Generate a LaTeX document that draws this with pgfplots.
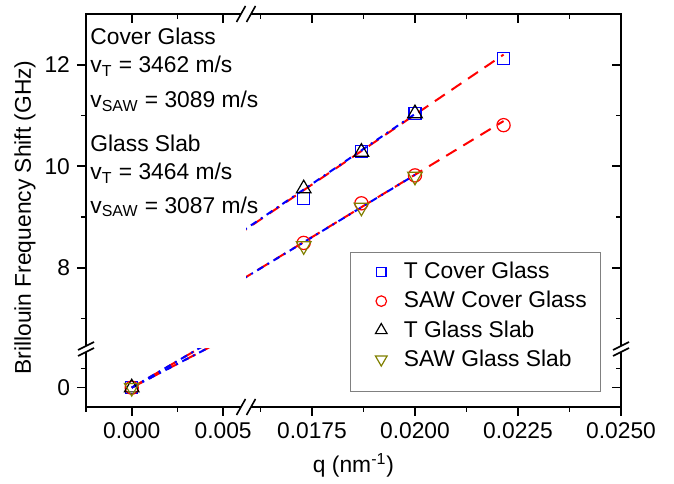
\documentclass[border=0pt]{standalone}
\usepackage{fontspec}
\setmainfont{Liberation Sans}
\usepackage{pgfplots}
\pgfplotsset{compat=1.18}
\usetikzlibrary{calc}

\definecolor{olv}{RGB}{128,128,0}

\pgfplotsset{
  part/.style={
    scale only axis,
    axis line style={draw=none},
    clip mode=individual,
    scaled ticks=false,
    major tick length=4.5pt,
    minor tick length=2.5pt,
    every tick/.append style={black, line width=0.8pt},
    tick label style={font=\fontsize{11.4}{13.5}\selectfont},
  },
  fitcov/.style={red, line width=1pt, dash pattern=on 6pt off 4pt, forget plot},
  fitslab/.style={blue, line width=1pt, dash pattern=on 3.5pt off 2.5pt on 1pt off 2.5pt, forget plot},
  mk/.style={only marks, line width=0.6pt,
    legend image code/.code={\path (-10pt,0pt) (9pt,0pt);
      \draw[##1, every mark/.append style={scale=0.8}] plot coordinates {(0pt,0pt)};}},
}

% same data in every panel of the broken axis
\newcommand{\allplots}{%
  \addplot[fitcov] coordinates {(0,0) (0.02215,12.20)};
  \addplot[fitcov] coordinates {(0,0) (0.02215,10.89)};
  \addplot[fitslab] coordinates {(0,0) (0.0200,11.03)};
  \addplot[fitslab] coordinates {(0,0) (0.0200,9.83)};
  \addplot[mk, blue, mark=square, mark size=3pt]
    coordinates {(0,0) (0.0173,9.36) (0.0187,10.29) (0.0200,11.04) (0.02215,12.12)};
  \addplot[mk, red, mark=o, mark size=3.3pt]
    coordinates {(0,0) (0.0173,8.49) (0.0187,9.27) (0.0200,9.82) (0.02215,10.81)};
  \addplot[mk, black, mark=triangle, mark size=4.2pt]
    coordinates {(0,0) (0.0173,9.56) (0.0187,10.28) (0.0200,11.04)};
  \addplot[mk, olv, mark=triangle, mark options={rotate=180}, mark size=4.2pt]
    coordinates {(0,0) (0.0173,8.43) (0.0187,9.19) (0.0200,9.80)};
}

\begin{document}
\begin{tikzpicture}[font=\fontsize{11.4}{13.5}\selectfont]
% lower left
\begin{axis}[part, name=LL, at={(0,0)}, anchor=south west,
  width=80pt, height=29pt,
  xmin=-0.0025, xmax=0.00625, ymin=-1, ymax=2,
  xtick={0,0.005}, xticklabels={0.000,0.005}, minor xtick={-0.0025,0.0025},
  ytick={0}, yticklabels={0}, minor ytick={1},
  xtick pos=left, ytick pos=left, xtick align=outside, ytick align=outside]
\allplots
\end{axis}
% lower right
\begin{axis}[part, name=LR, at={(LL.south east)}, anchor=south west,
  width=187.5pt, height=29pt,
  xmin=0.0159, xmax=0.025, ymin=-1, ymax=2,
  xtick={0.0175,0.02,0.0225,0.025}, xticklabels={0.0175,0.0200,0.0225,0.0250},
  minor xtick={0.01625,0.01875,0.02125,0.02375},
  ytick={0}, yticklabels={}, minor ytick={1},
  xtick pos=left, ytick pos=right, xtick align=outside, ytick align=inside]
\allplots
\end{axis}
% upper left
\begin{axis}[part, name=UL, at={(LL.north west)}, anchor=south west,
  width=80pt, height=167.5pt,
  xmin=-0.0025, xmax=0.00625, ymin=6.4, ymax=13,
  xtick={0,0.005}, xticklabels={}, minor xtick={-0.0025,0.0025},
  ytick={8,10,12}, yticklabels={8,10,12}, minor ytick={7,9,11},
  xtick pos=right, ytick pos=left, xtick align=inside, ytick align=outside]
\allplots
\end{axis}
% upper right
\begin{axis}[part, name=UR, at={(LL.north east)}, anchor=south west,
  width=187.5pt, height=167.5pt,
  xmin=0.0159, xmax=0.025, ymin=6.4, ymax=13,
  xtick={0.0175,0.02,0.0225,0.025}, xticklabels={},
  minor xtick={0.01625,0.01875,0.02125,0.02375},
  ytick={8,10,12}, yticklabels={}, minor ytick={7,9,11},
  xtick pos=right, ytick pos=right, xtick align=inside, ytick align=inside,
  legend cell align=left,
  legend style={at={(rel axis cs:0.947,0.29)}, anchor=north east,
    draw=gray, fill=white, inner xsep=5pt, inner ysep=3pt, row sep=0.8pt,
    font=\fontsize{11.4}{13.5}\selectfont}]
\allplots
\addlegendimage{empty legend}
\legend{T Cover Glass, SAW Cover Glass, T Glass Slab, SAW Glass Slab, \mbox{}}
\end{axis}

% frame and break marks
\draw[line width=0.9pt] (LL.south west) rectangle (UR.north east);
\foreach \p in {LR.south west, UR.north west}{
  \fill[white] ($(\p)+(-4.75pt,-4pt)$) -- ($(\p)+(-0.25pt,4pt)$) -- ($(\p)+(4.75pt,4pt)$) -- ($(\p)+(0.25pt,-4pt)$) -- cycle;
  \draw[line width=0.8pt] ($(\p)+(-4.75pt,-4pt)$) -- ($(\p)+(-0.25pt,4pt)$);
  \draw[line width=0.8pt] ($(\p)+(0.25pt,-4pt)$) -- ($(\p)+(4.75pt,4pt)$);
}
\foreach \p in {UL.south west, UR.south east}{
  \fill[white] ($(\p)+(-4pt,-3.5pt)$) -- ($(\p)+(4pt,0.5pt)$) -- ($(\p)+(4pt,3.5pt)$) -- ($(\p)+(-4pt,-0.5pt)$) -- cycle;
  \draw[line width=0.8pt] ($(\p)+(-4pt,-3.5pt)$) -- ($(\p)+(4pt,0.5pt)$);
  \draw[line width=0.8pt] ($(\p)+(-4pt,-0.5pt)$) -- ($(\p)+(4pt,3.5pt)$);
}

% axis labels
\node[rotate=90] at ($(LL.south west)!0.5!(UL.north west)+(-30.5pt,-3.5pt)$) {Brillouin Frequency Shift (GHz)};
\node at ($(LL.south west)!0.5!(LR.south east)+(0,-29pt)$) {q (nm\textsuperscript{-1})};

% velocities
\node[anchor=base west, inner sep=0pt] at ($(UL.north west)+(2pt,-15.5pt)$) {Cover Glass};
\node[anchor=base west, inner sep=0pt] at ($(UL.north west)+(2pt,-29.5pt)$) {v\textsubscript{T} = 3462 m/s};
\node[anchor=base west, inner sep=0pt] at ($(UL.north west)+(2pt,-47pt)$) {v\textsubscript{SAW} = 3089 m/s};
\node[anchor=base west, inner sep=0pt] at ($(UL.north west)+(2pt,-69pt)$) {Glass Slab};
\node[anchor=base west, inner sep=0pt] at ($(UL.north west)+(2pt,-83pt)$) {v\textsubscript{T} = 3464 m/s};
\node[anchor=base west, inner sep=0pt] at ($(UL.north west)+(2pt,-99.5pt)$) {v\textsubscript{SAW} = 3087 m/s};

% page size as in the reference
\path ($(LL.south west)+(-43pt,-36.5pt)$) rectangle ($(UR.north east)+(26.5pt,7pt)$);
\end{tikzpicture}
\end{document}
